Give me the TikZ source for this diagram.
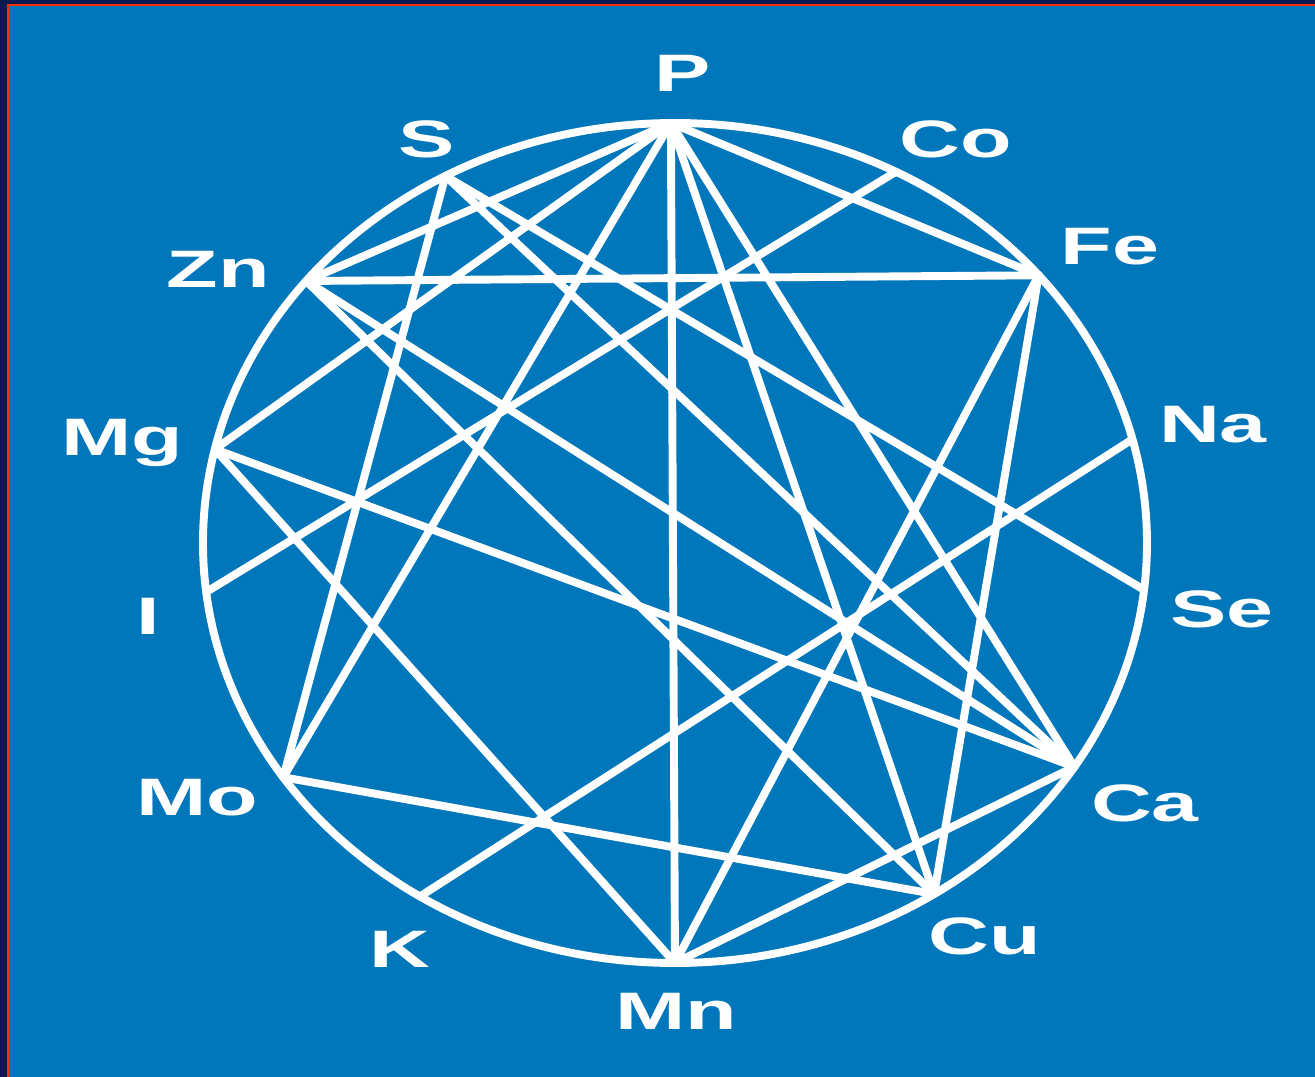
\documentclass[tikz,border=0pt]{standalone}
\usepackage{fontspec}
\setmainfont{Liberation Sans}
\usepackage{graphicx}
\usetikzlibrary{positioning,calc}

\definecolor{seablue}{RGB}{0,118,187}
\definecolor{navyframe}{RGB}{10,25,80}
\definecolor{redframe}{RGB}{255,45,0}

% wide heavy element letters
\newcommand{\elem}[1]{\scalebox{1.6}[1]{#1}}

\begin{document}
\begin{tikzpicture}[x=0.02cm, y=0.02cm,
  link/.style={draw=white, line width=4.5pt, line cap=round},
  rim/.style={draw=white, line width=4.5pt},
  elemlabel/.style={anchor=base, text=white, inner sep=0pt, font=\fontsize{30}{30}\selectfont\bfseries}]
% frame and background
\fill[navyframe] (-675,543) rectangle (640,-534);
\fill[redframe] (-668,539) rectangle (640,-534);
\fill[seablue] (-666,537) rectangle (640,-534);

% ring
\draw[rim] (0,0) ellipse [x radius=472, y radius=420];

% points on the ring
\coordinate (P)  at (90.5:472 and 420);
\coordinate (S)  at (119.1:472 and 420);
\coordinate (Co) at (62.1:472 and 420);
\coordinate (Fe) at (39.6:472 and 420);
\coordinate (Zn) at (141.4:472 and 420);
\coordinate (Na) at (14.3:472 and 420);
\coordinate (Mg) at (167.1:472 and 420);
\coordinate (I)  at (186.7:472 and 420);
\coordinate (Se) at (353.6:472 and 420);
\coordinate (Mo) at (213.9:472 and 420);
\coordinate (Ca) at (327.8:472 and 420);
\coordinate (K)  at (237.3:472 and 420);
\coordinate (Cu) at (303.3:472 and 420);
\coordinate (Mn) at (270:472 and 420);

% labels
\node (lab-P)  [elemlabel] at (8,451)    {\elem{P}};
\node (lab-S)  [elemlabel] at (-248,385) {\elem{S}};
\node (lab-Co) [elemlabel] at (281,385)  {\elem{Co}};
\node (lab-Fe) [elemlabel] at (435,278)  {\elem{Fe}};
\node (lab-Zn) [elemlabel] at (-457,255) {\elem{Zn}};
\node (lab-Na) [elemlabel] at (538,100)  {\elem{Na}};
\node (lab-Mg) [elemlabel] at (-553,87)  {\elem{Mg}};
\node (lab-I)  [elemlabel] at (-527,-92) {\elem{I}};
\node (lab-Se) [elemlabel] at (547,-85)  {\elem{Se}};
\node (lab-Mo) [elemlabel] at (-478,-273) {\elem{Mo}};
\node (lab-Ca) [elemlabel] at (470,-279) {\elem{Ca}};
\node (lab-K)  [elemlabel] at (-275,-425) {\elem{K}};
\node (lab-Cu) [elemlabel] at (310,-412) {\elem{Cu}};
\node (lab-Mn) [elemlabel] at (1,-487)   {\elem{Mn}};

% interactions
\foreach \a/\b in {P/Zn, P/Mg, P/Mo, P/Mn, P/Cu, P/Ca, P/Fe,
                   S/Mo, S/Se, S/Ca,
                   Zn/Fe, Zn/Cu, Zn/Ca,
                   Co/I, Mg/Ca, Mg/Mn,
                   Fe/Mn, Fe/Cu, Na/K, Mo/Cu,
                   Ca/Mn}
  \draw[link] (\a) -- (\b);
\end{tikzpicture}
\end{document}
